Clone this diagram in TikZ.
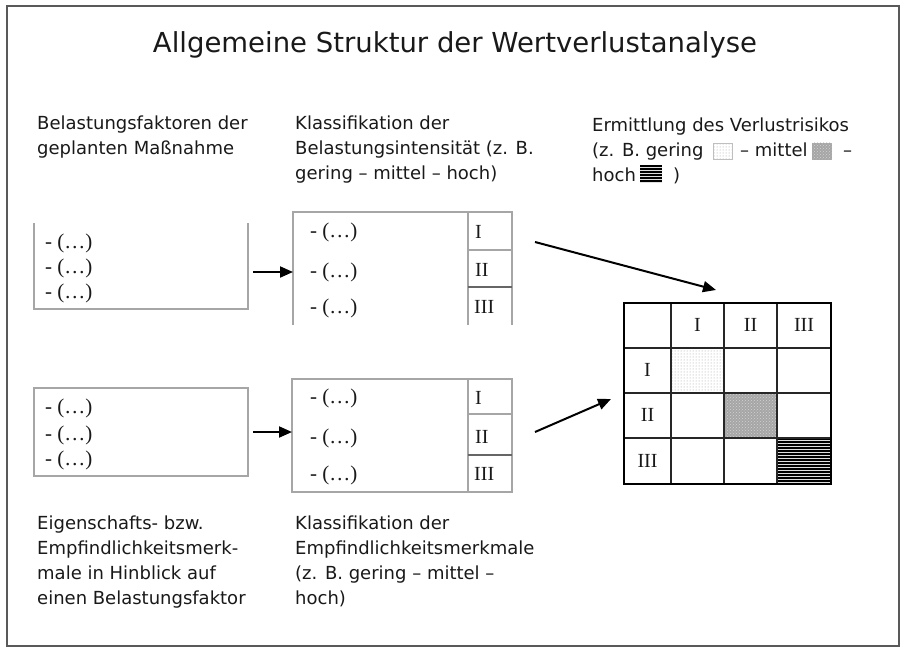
\documentclass[tikz,border=0pt]{standalone}
\usepackage{fontspec}
\setmainfont{DejaVu Sans}
\newfontfamily\seriffont{Liberation Serif}
\usetikzlibrary{arrows.meta,patterns}
\begin{document}
\begin{tikzpicture}[x=1pt,y=-1pt,
  txt/.style={inner sep=0pt,align=left,text=black!90,font=\fontsize{18}{25}\selectfont},
  item/.style={inner sep=0pt,anchor=west,text=black!90,font=\seriffont\fontsize{21}{25}\selectfont},
  num/.style={inner sep=0pt,text=black!90,font=\seriffont\fontsize{20}{22}\selectfont},
  boxline/.style={draw=gray!70,line width=1.8pt},
  gridline/.style={draw=black!85,line width=1.5pt},
  arr/.style={draw=black,line width=2pt,-{Triangle[length=13pt,width=11pt]}},
  blank/.style={draw=none,inner sep=0pt,outer sep=0pt},
  lightcell/.style={preaction={fill=white},pattern=dots,pattern color=gray!75},
  midcell/.style={preaction={fill=gray!70},pattern=crosshatch dots,pattern color=gray!35},
  darkcell/.style={preaction={fill=black},pattern=horizontal lines,pattern color=gray!25}
]
\useasboundingbox (0,0) rectangle (901,648);
\draw[draw=gray!70!black,line width=2pt] (7,6) rectangle (899,646);

% title
\node[txt,font=\fontsize{27.5}{30}\selectfont] (title) at (455,45) {Allgemeine Struktur der Wertverlustanalyse};

% column headings
\node[txt,anchor=north west] (h1) at (37,116) {Belastungsfaktoren der\\geplanten Maßnahme};
\node[txt,anchor=north west] (h2) at (295,116) {Klassifikation der\\Belastungsintensität (z. B.\\gering – mittel – hoch)};
\node[txt,anchor=base west] (e1) at (592,131) {Ermittlung des Verlustrisikos};
\node[txt,anchor=base west] (e2) at (592,156) {(z. B. gering};
\node[blank,lightcell,draw=gray!50,line width=0.6pt,minimum width=19pt,minimum height=16pt] (sq1) at (723,151) {};
\node[txt,anchor=base west] (e3) at (740,156) {– mittel};
\node[blank,midcell,minimum width=20pt,minimum height=17pt] (sq2) at (822,151) {};
\node[txt,anchor=base west] (e4) at (843,156) {–};
\node[txt,anchor=base west] (e5) at (592,181) {hoch};
\node[blank,darkcell,minimum width=22pt,minimum height=18pt] (sq3) at (651,174) {};
\node[txt,anchor=base west] (e6) at (670,181) {\,)};

% bottom headings
\node[txt,anchor=north west] (f1) at (37,516) {Eigenschafts- bzw.\\Empfindlichkeitsmerk-\\male in Hinblick auf\\einen Belastungsfaktor};
\node[txt,anchor=north west] (f2) at (295,516) {Klassifikation der\\Empfindlichkeitsmerkmale\\(z. B. gering – mittel –\\hoch)};

% top-left box (open top)
\node[blank,minimum width=214pt,minimum height=86pt] (b1) at (141,266) {};
\draw[boxline] (b1.north west) -- (b1.south west) -- (b1.south east) -- (b1.north east);
\node[item] (b1a) at (45,243) {- (…)};
\node[item] (b1b) at (45,268) {- (…)};
\node[item] (b1c) at (45,293) {- (…)};

% top-middle box (open bottom)
\node[blank,minimum width=219pt,minimum height=113pt] (b2) at (402.5,268.5) {};
\draw[boxline] (b2.south west) -- (b2.north west) -- (b2.north east) -- (b2.south east);
\draw[boxline] (468,212) -- (468,325);
\draw[boxline] (468,250) -- (512,250);
\draw[boxline,draw=gray!80!black] (468,287) -- (512,287);
\node[item] (b2a) at (310,232) {- (…)};
\node[item] (b2b) at (310,272) {- (…)};
\node[item] (b2c) at (310,308) {- (…)};
\node[num,anchor=west] (b2n1) at (475,232) {I};
\node[num,anchor=west] (b2n2) at (475,270) {II};
\node[num,anchor=west] (b2n3) at (474,307) {III};

% bottom-left box
\node[blank,boxline,draw=gray!70,minimum width=214pt,minimum height=88pt] (b3) at (141,432) {};
\node[item] (b3a) at (45,408) {- (…)};
\node[item] (b3b) at (45,435) {- (…)};
\node[item] (b3c) at (45,460) {- (…)};

% bottom-middle box
\node[blank,boxline,draw=gray!70,minimum width=220pt,minimum height=113pt] (b4) at (402,435.5) {};
\draw[boxline] (468,379) -- (468,492);
\draw[boxline] (468,414) -- (512,414);
\draw[boxline,draw=gray!80!black] (468,455) -- (512,455);
\node[item] (b4a) at (310,398) {- (…)};
\node[item] (b4b) at (310,438) {- (…)};
\node[item] (b4c) at (310,475) {- (…)};
\node[num,anchor=west] (b4n1) at (475,398) {I};
\node[num,anchor=west] (b4n2) at (475,437) {II};
\node[num,anchor=west] (b4n3) at (474,474) {III};

% matrix
\path[lightcell] (671,348) rectangle (724,393);
\path[midcell] (724,393) rectangle (777,438);
\path[darkcell] (777,438) rectangle (831,484);
\foreach \x in {671,724,777} \draw[gridline] (\x,303) -- (\x,484);
\foreach \y in {348,393,438} \draw[gridline] (624,\y) -- (831,\y);
\node[blank,draw=black,line width=2pt,minimum width=207pt,minimum height=181pt] (mx) at (727.5,393.5) {};
\node[num] (c1) at (697.5,325) {I};
\node[num] (c2) at (750.5,325) {II};
\node[num] (c3) at (804,325) {III};
\node[num] (r1) at (647.5,370) {I};
\node[num] (r2) at (647.5,415) {II};
\node[num] (r3) at (647.5,461) {III};

% arrows
\coordinate (a1s) at (253,272);
\draw[arr] (a1s) -- (b2.west |- a1s);
\coordinate (a2s) at (253,432);
\draw[arr] (a2s) -- (b4.west |- a2s);
\coordinate (a3s) at (535,242);
\coordinate (a3e) at (716,290);
\draw[arr] (a3s) -- (a3e);
\coordinate (a4s) at (535,432);
\coordinate (a4e) at (611,399);
\draw[arr] (a4s) -- (a4e);
\end{tikzpicture}
\end{document}
